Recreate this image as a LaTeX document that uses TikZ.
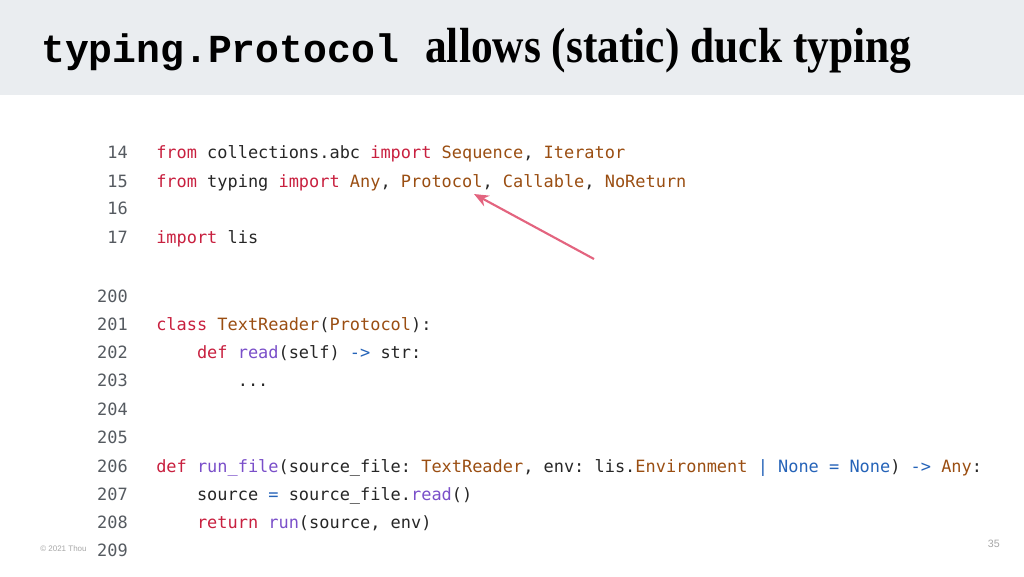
\documentclass[tikz,border=0pt]{standalone}
\usepackage{fontspec}
\usetikzlibrary{arrows.meta}
\setmonofont{DejaVu Sans Mono}
\newfontfamily\titlemono{Liberation Mono}
\newfontfamily\titleserif{Liberation Serif}
\newfontfamily\footfont{Liberation Sans}
\definecolor{bandgray}{HTML}{EAEDF0}
\definecolor{kwred}{HTML}{C8203F}
\definecolor{tybrown}{HTML}{9A4E12}
\definecolor{fnpurple}{HTML}{7A4FC9}
\definecolor{opblue}{HTML}{2563B8}
\definecolor{numgray}{HTML}{555A60}
\definecolor{arrowpink}{HTML}{E3647F}
\newcommand{\kw}[1]{\textcolor{kwred}{#1}}
\newcommand{\ty}[1]{\textcolor{tybrown}{#1}}
\newcommand{\fn}[1]{\textcolor{fnpurple}{#1}}
\newcommand{\op}[1]{\textcolor{opblue}{#1}}
\newcommand{\us}{\char`\_}
\begin{document}
\begin{tikzpicture}[x=0.75pt, y=-0.75pt,
    lineno/.style={anchor=base east, inner sep=0pt, font=\ttfamily\fontsize{12.7pt}{14pt}\selectfont, text=numgray},
    code/.style={anchor=base west, inner sep=0pt, font=\ttfamily\fontsize{12.7pt}{14pt}\selectfont, text=black!85}]
    \useasboundingbox (0,0) rectangle (1024,576);
    % Title band
    \fill[bandgray] (0,0) rectangle (1024,95);
    \node[anchor=base west, inner sep=0pt, font=\titlemono\bfseries\fontsize{29.8pt}{32pt}\selectfont] (titlecode) at (41,62) {typing.Protocol};
    \node[anchor=base west, inner sep=0pt, font=\titleserif\bfseries\fontsize{37pt}{40pt}\selectfont, xscale=0.88] (titletext) at (425,62) {allows (static) duck typing};
    % Line numbers
    \foreach \n/\y in {14/158,15/187,16/214,17/243,200/302,201/330,202/358,203/386,204/415,205/443,206/472,207/500,208/528,209/556}
        \node[lineno] (no\n) at (128,\y) {\n};
    % Code
    \node[code] (c14) at (156,158) {\kw{from} collections.abc \kw{import} \ty{Sequence}, \ty{Iterator}};
    \node[code] (c15) at (156,187) {\kw{from} typing \kw{import} \ty{Any}, \ty{Protocol}, \ty{Callable}, \ty{NoReturn}};
    \node[code] (c17) at (156,243) {\kw{import} lis};
    \node[code] (c201) at (156,330) {\kw{class} \ty{TextReader}(\ty{Protocol}):};
    \node[code] (c202) at (156,358) {\ \ \ \ \kw{def} \fn{read}(self) \op{->} str:};
    \node[code] (c203) at (156,386) {\ \ \ \ \ \ \ \ ...};
    \node[code] (c206) at (156,472) {\kw{def} \fn{run\us file}(source\us file: \ty{TextReader}, env: lis.\ty{Environment} \op{|} \op{None} \op{=} \op{None}) \op{->} \ty{Any}:};
    \node[code] (c207) at (156,500) {\ \ \ \ source \op{=} source\us file.\fn{read}()};
    \node[code] (c208) at (156,528) {\ \ \ \ \kw{return} \fn{run}(source, env)};
    % Pointer
    \coordinate (tail) at (594,259);
    \coordinate (tip) at (474,194);
    \draw[arrowpink, line width=1.6pt, -{Stealth[length=11pt, width=9pt]}] (tail) -- (tip);
    % Footer
    \node[anchor=base west, inner sep=0pt, font=\footfont\fontsize{6pt}{7pt}\selectfont, text=black!35] (copy) at (40,551) {© 2021 Thou};
    \node[anchor=base east, inner sep=0pt, font=\footfont\fontsize{8pt}{9pt}\selectfont, text=black!35] (page) at (1000,547) {35};
\end{tikzpicture}
\end{document}
